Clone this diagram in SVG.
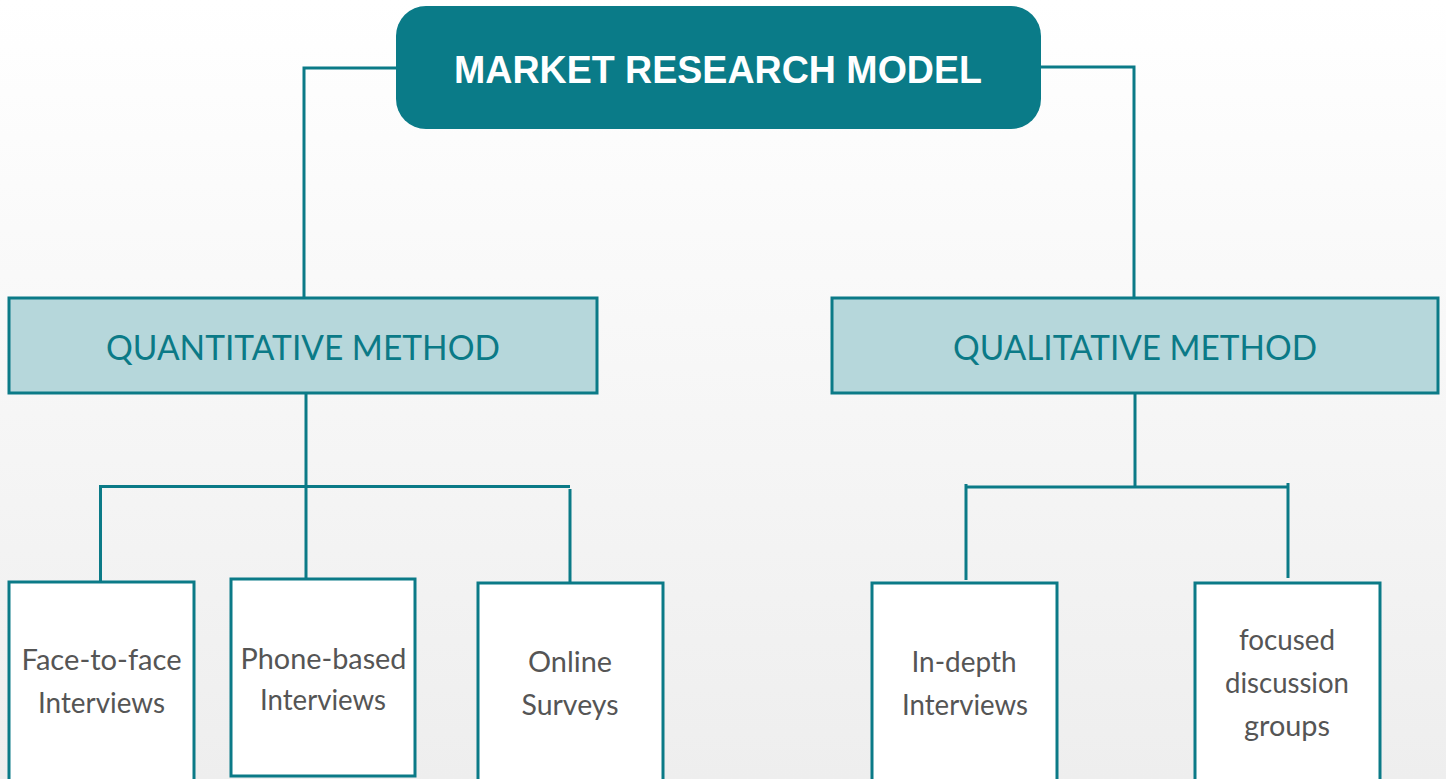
<svg xmlns="http://www.w3.org/2000/svg" width="1446" height="779" viewBox="0 0 1446 779">
<defs>
<linearGradient id="bg" x1="0" y1="0" x2="0" y2="1">
<stop offset="0" stop-color="#ffffff"/>
<stop offset="1" stop-color="#eeeeee"/>
</linearGradient>
<style>
.conn{fill:none;stroke:#0b7a87;stroke-width:3}
.method{fill:#b6d7db;stroke:#0b7a87;stroke-width:3}
.leaf{fill:#ffffff;stroke:#0b7a87;stroke-width:3}
.title{font-family:"Liberation Sans",Arial,sans-serif;font-weight:bold;font-size:39px;fill:#ffffff}
.mtext{font-family:Lato,"Liberation Sans",sans-serif;font-size:35px;fill:#0b7a87}
.ltext{font-family:Lato,"Liberation Sans",sans-serif;font-size:28px;fill:#555555}
</style>
</defs>
<rect x="0" y="0" width="1446" height="779" fill="url(#bg)"/>
<g id="connectors">
<polyline class="conn" points="397,68 304,68 304,298"/>
<polyline class="conn" points="1040,67 1134,67 1134,298"/>
<line class="conn" x1="306" y1="393" x2="306" y2="487"/>
<polyline class="conn" points="100.5,581 100.5,486.5 570,486.5"/>
<line class="conn" x1="306" y1="487" x2="306" y2="579"/>
<line class="conn" x1="570" y1="489" x2="570" y2="583"/>
<line class="conn" x1="1135" y1="393" x2="1135" y2="487"/>
<line class="conn" x1="966" y1="487" x2="1288" y2="487"/>
<line class="conn" x1="966" y1="484" x2="966" y2="580"/>
<line class="conn" x1="1288" y1="483" x2="1288" y2="578"/>
</g>
<g id="market-research-model">
<rect x="396" y="6" width="645" height="123" rx="30" ry="30" fill="#0a7b88"/>
<text class="title" x="718" y="83" text-anchor="middle" textLength="528" lengthAdjust="spacingAndGlyphs">MARKET RESEARCH MODEL</text>
</g>
<g id="quantitative-method">
<rect class="method" x="9" y="298" width="588" height="95"/>
<text class="mtext" x="303" y="360" text-anchor="middle" textLength="394" lengthAdjust="spacingAndGlyphs">QUANTITATIVE METHOD</text>
</g>
<g id="qualitative-method">
<rect class="method" x="832" y="298" width="606" height="95"/>
<text class="mtext" x="1135" y="360" text-anchor="middle" textLength="364" lengthAdjust="spacingAndGlyphs">QUALITATIVE METHOD</text>
</g>
<g id="face-to-face">
<rect class="leaf" x="9" y="582" width="185" height="200"/>
<text class="ltext" x="101.5" y="670" text-anchor="middle" textLength="160" lengthAdjust="spacingAndGlyphs">Face-to-face</text>
<text class="ltext" x="101.5" y="713" text-anchor="middle" textLength="127" lengthAdjust="spacingAndGlyphs">Interviews</text>
</g>
<g id="phone-based">
<rect class="leaf" x="231" y="579" width="184" height="197"/>
<text class="ltext" x="323.5" y="669" text-anchor="middle" textLength="166" lengthAdjust="spacingAndGlyphs">Phone-based</text>
<text class="ltext" x="323" y="710" text-anchor="middle" textLength="126" lengthAdjust="spacingAndGlyphs">Interviews</text>
</g>
<g id="online-surveys">
<rect class="leaf" x="478" y="583" width="185" height="200"/>
<text class="ltext" x="570" y="672" text-anchor="middle" textLength="84" lengthAdjust="spacingAndGlyphs">Online</text>
<text class="ltext" x="570" y="715" text-anchor="middle" textLength="97" lengthAdjust="spacingAndGlyphs">Surveys</text>
</g>
<g id="in-depth">
<rect class="leaf" x="872" y="583" width="185" height="200"/>
<text class="ltext" x="964" y="672" text-anchor="middle" textLength="105" lengthAdjust="spacingAndGlyphs">In-depth</text>
<text class="ltext" x="965" y="715" text-anchor="middle" textLength="126" lengthAdjust="spacingAndGlyphs">Interviews</text>
</g>
<g id="focused-discussion-groups">
<rect class="leaf" x="1195" y="583" width="185" height="200"/>
<text class="ltext" x="1287" y="650" text-anchor="middle" textLength="96" lengthAdjust="spacingAndGlyphs">focused</text>
<text class="ltext" x="1287" y="693" text-anchor="middle" textLength="124" lengthAdjust="spacingAndGlyphs">discussion</text>
<text class="ltext" x="1287" y="736" text-anchor="middle" textLength="86" lengthAdjust="spacingAndGlyphs">groups</text>
</g>
</svg>
